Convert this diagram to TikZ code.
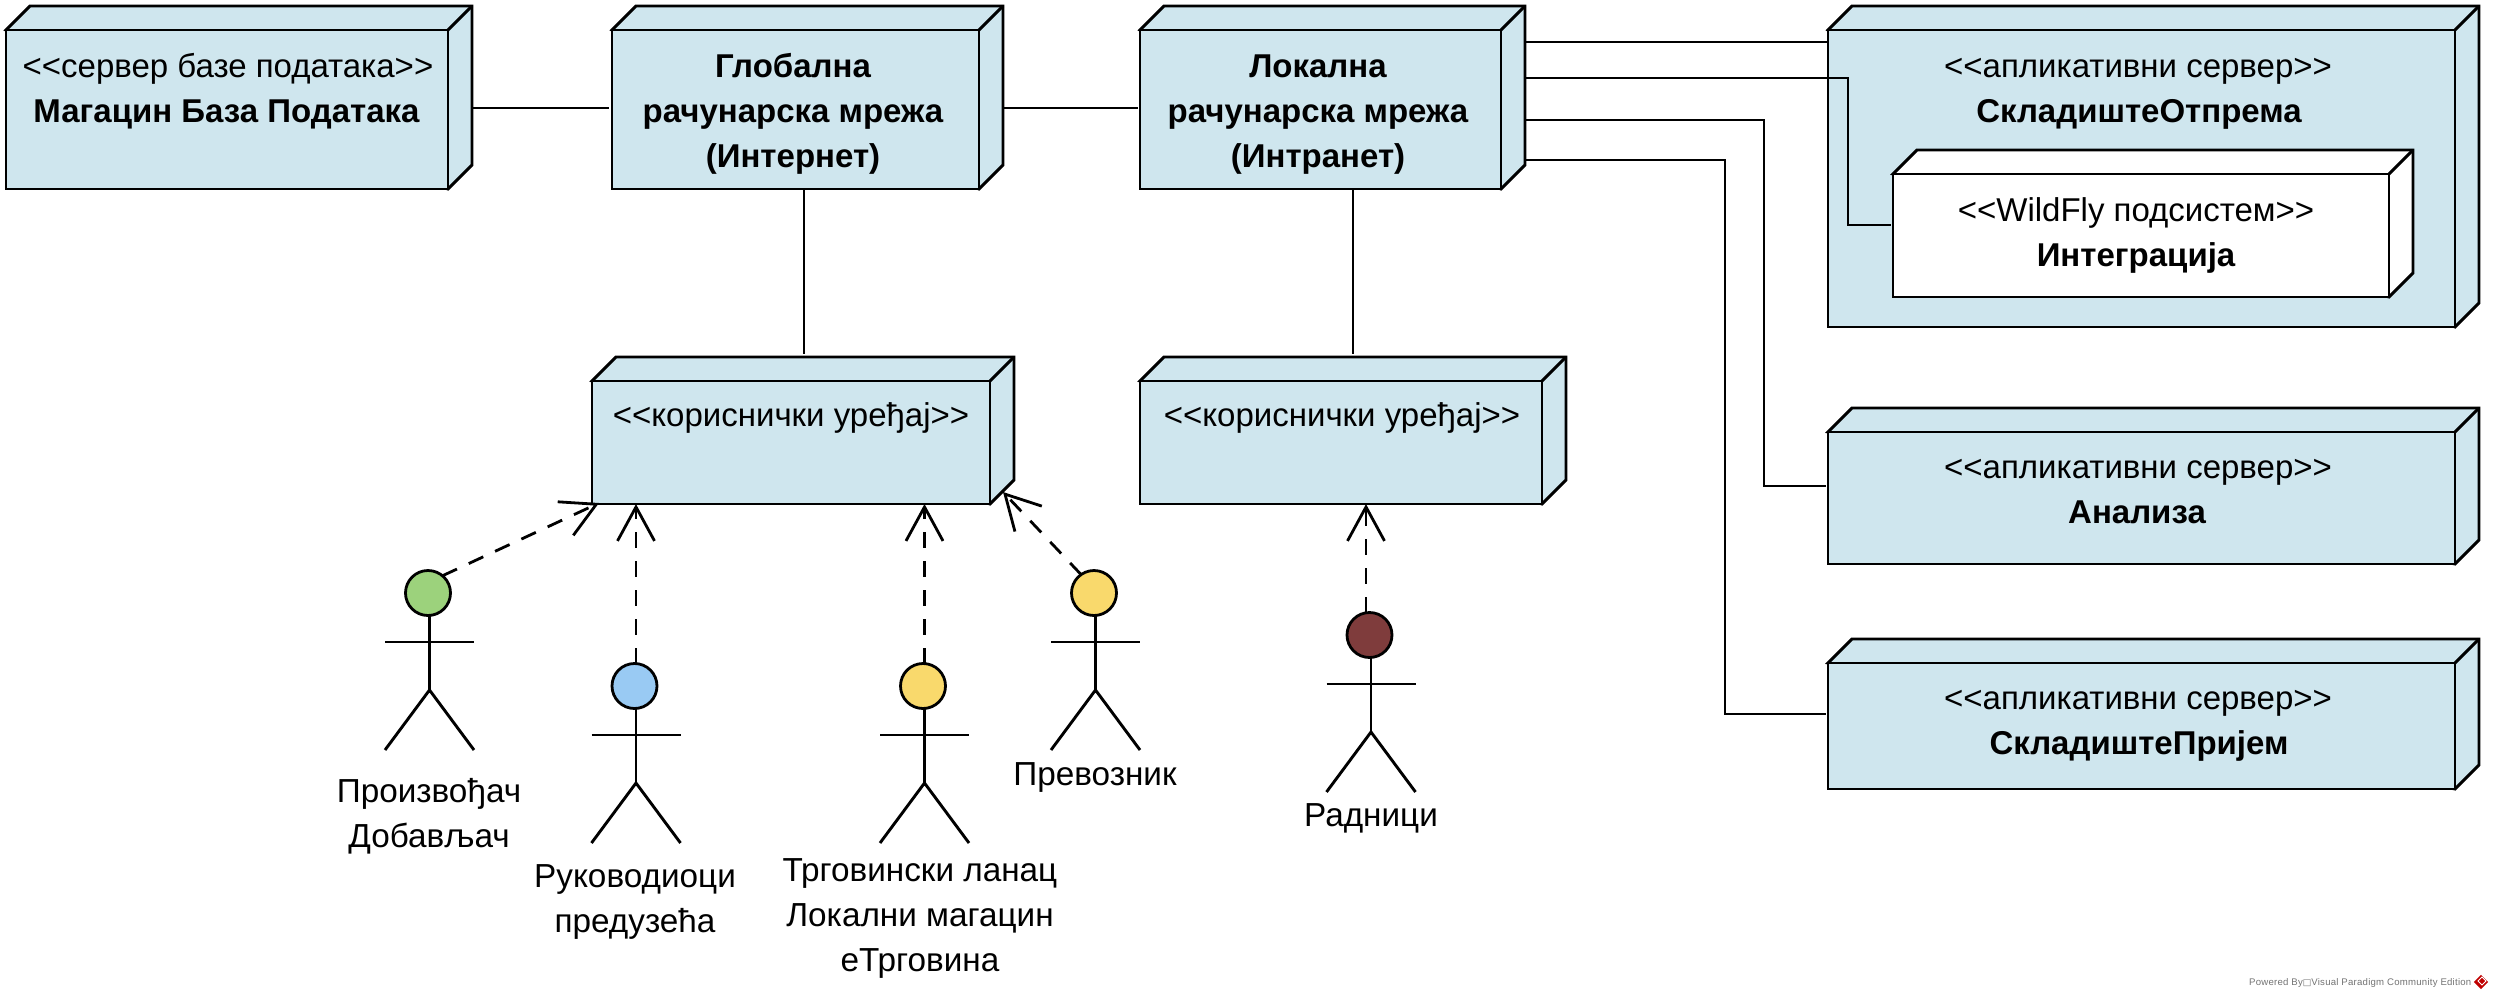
\documentclass[tikz,border=0pt]{standalone}
\usepackage{fontspec}
\setmainfont{Liberation Sans}
\usetikzlibrary{arrows.meta,calc}
\definecolor{nodeblue}{HTML}{CFE6EE}
\definecolor{headgreen}{HTML}{9CD27C}
\definecolor{headblue}{HTML}{99CAF3}
\definecolor{headyellow}{HTML}{F9D96C}
\definecolor{headred}{HTML}{7F3C3C}
\newcommand{\stl}{<\kern0pt<}
\newcommand{\str}{>\kern0pt>}
\newcommand{\topstr}{\rule{0pt}{25pt}}
\newcommand{\botstr}{\rule[-7pt]{0pt}{7pt}}
\tikzset{
  x=1pt,y=-1pt,
  boxline/.style={draw=black,line width=2.9pt,line join=miter},
  front/.style={boxline,inner sep=0pt,outer sep=0pt,rectangle},
  conn/.style={draw=black,line width=2.9pt,line join=miter},
  dep/.style={draw=black,line width=2.8pt,dash pattern=on 16pt off 13pt,
    -{Straight Barb[length=34pt,width=37pt,line width=2.8pt,sep=0pt]}},
  head/.style={circle,draw=black,line width=2.8pt,minimum size=45pt,inner sep=0pt,outer sep=0pt},
  limb/.style={draw=black,line width=2.9pt,line cap=butt},
  txt/.style={font=\fontsize{33.3}{45}\selectfont,align=center,inner sep=0pt},
  stxt/.style={txt,font=\fontsize{33}{45}\selectfont},
  btxt/.style={txt,font=\fontsize{33}{45}\selectfont\bfseries}
}
\newcommand{\deploy}[6]{%
  \pgfmathsetmacro{\xa}{#2}\pgfmathsetmacro{\ya}{#3}\pgfmathsetmacro{\xb}{#4}\pgfmathsetmacro{\yb}{#5}
  \draw[boxline,fill=#6] (\xa,\ya) -- (\xa+24,\ya-24) -- (\xb+24,\ya-24) -- (\xb+24,\yb-24) -- (\xb,\yb) -- cycle;
  \draw[boxline] (\xb,\ya) -- (\xb+24,\ya-24);
  \node[front,fill=#6,minimum width={(\xb-\xa)*1pt},minimum height={(\yb-\ya)*1pt}] (#1) at ({(\xa+\xb)/2},{(\ya+\yb)/2}) {};
}
% name, cx (spine), head cy, colour
\newcommand{\actor}[4]{%
  \node[head,fill=#4] (#1) at (#2-1.5,#3) {};
  \coordinate (#1s) at (#2,#3+23);
  \coordinate (#1a) at (#2,#3+49);
  \coordinate (#1h) at (#2,#3+97);
  \draw[limb] (#1s) -- (#1h);
  \draw[limb] ($(#1a)+(-44.5,0)$) -- ($(#1a)+(44.5,0)$);
  \draw[limb,line join=miter] ($(#1h)+(-44.5,60)$) -- (#1h) -- ($(#1h)+(44.5,60)$);
}
\begin{document}
\begin{tikzpicture}
\useasboundingbox (0,0) rectangle (2493,999);
\fill[white] (0,0) rectangle (2493,999);

% boxes
\deploy{db}{6}{30}{448}{189}{nodeblue}
\deploy{wan}{612}{30}{979}{189}{nodeblue}
\deploy{lan}{1140}{30}{1501}{189}{nodeblue}
\deploy{devg}{592}{381}{990}{504}{nodeblue}
\deploy{devl}{1140}{381}{1542}{504}{nodeblue}
\deploy{srva}{1828}{30}{2455}{327}{nodeblue}
\deploy{srvb}{1828}{432}{2455}{564}{nodeblue}
\deploy{srvc}{1828}{663}{2455}{789}{nodeblue}

% helper coordinates
\coordinate (pa) at (1525,42);
\coordinate (pb) at (1525,78);
\coordinate (pc) at (1525,120);
\coordinate (pd) at (1525,160);
\coordinate (tb) at (1848,225);
\coordinate (tc) at (1764,486);
\coordinate (td) at (1725,714);

% connectors
\draw[conn] (472,108) coordinate (dbr) -- (609,108) coordinate (wanl);
\draw[conn] (1003,108) coordinate (wanr) -- (1138,108) coordinate (lanl);
\draw[conn] (wan.south -| 804,0) -- (804,354) coordinate (devgt);
\draw[conn] (lan.south -| 1353,0) -- (1353,354) coordinate (devlt);
\draw[conn] (pa) -- (srva.west |- pa);
\draw[conn] (pc) -| (tc) -- ($(srvb.west |- tc)+(-2,0)$);
\draw[conn] (pd) -| (td) -- ($(srvc.west |- td)+(-2,0)$);

% inner box
\deploy{integ}{1893}{174}{2389}{297}{white}
\draw[conn] (pb) -| (tb) -- ($(integ.west |- tb)+(-2,0)$);

% texts in boxes
\node[stxt] (tdb1) at (228,68) {\topstr\stl сервер базе података\str\botstr};
\node[btxt] (tdb2) at (226.5,113) {\topstr Магацин База Података\botstr};
\node[btxt] (twan) at (793,113) {\topstr Глобална\\рачунарска мрежа\\(Интернет)\botstr};
\node[btxt] (tlan) at (1318,113) {\topstr Локална\\рачунарска мрежа\\(Интранет)\botstr};
\node[stxt] (tdg) at (791,417) {\topstr\stl кориснички уређај\str\botstr};
\node[stxt] (tdl) at (1342,417) {\topstr\stl кориснички уређај\str\botstr};
\node[stxt] (tsa1) at (2138,68) {\topstr\stl апликативни сервер\str\botstr};
\node[btxt] (tsa2) at (2139,113) {\topstr СкладиштеОтпрема\botstr};
\node[stxt] (ti1) at (2136,212) {\topstr\stl WildFly подсистем\str\botstr};
\node[btxt] (ti2) at (2136,257) {\topstr Интеграција\botstr};
\node[stxt] (tsb1) at (2138,469) {\topstr\stl апликативни сервер\str\botstr};
\node[btxt] (tsb2) at (2137,514) {\topstr Анализа\botstr};
\node[stxt] (tsc1) at (2138,700) {\topstr\stl апликативни сервер\str\botstr};
\node[btxt] (tsc2) at (2139,745) {\topstr СкладиштеПријем\botstr};

% actors
\actor{aa}{429.5}{593}{headgreen}
\actor{ab}{636}{686}{headblue}
\actor{ac}{924.5}{686}{headyellow}
\actor{ad}{1095.5}{593}{headyellow}
\actor{ae}{1371}{635}{headred}

\node[txt] (laa) at (429,815.5) {\topstr Произвођач\\Добављач\botstr};
\node[txt] (lab) at (635,901) {\topstr Руководиоци\\предузећа\botstr};
\node[txt] (lac) at (920,917) {\topstr Трговински ланац\\Локални магацин\\еТрговина\botstr};
\node[txt] (lad) at (1095,776.5) {\topstr Превозник\botstr};
\node[txt] (lae) at (1371,817.5) {\topstr Радници\botstr};

% dependencies
\draw[dep] (aa.50) -- ($(devg.south west)+(7,-1)$);
\draw[dep] (ab.north -| 636,0) -- (devg.south -| 636,0);
\draw[dep] (ac.north -| 924.5,0) -- (devg.south -| 924.5,0);
\draw[dep] (ad.125) -- ($(devg.south east)+(13,-12)$);
\draw[dep] (ae.north -| 1366,0) -- (devl.south -| 1366,0);

% watermark
\node[font=\fontsize{9.6}{11}\selectfont,text=black!55,inner sep=0pt,anchor=west] (wm) at (2249,983)
  {\addfontfeatures{LetterSpace=2.5}Powered By{\fontspec{DejaVu Sans}\fontsize{9}{11}\selectfont □}Visual Paradigm Community Edition};
\node[rectangle,rotate=45,fill=red!75!black,minimum size=10pt,inner sep=0pt] (wmi) at (2481,982) {};
\draw[white,line width=1pt] (2478,981) -- (2482,977) -- (2486,981) -- (2482,985) -- cycle;
\end{tikzpicture}
\end{document}
